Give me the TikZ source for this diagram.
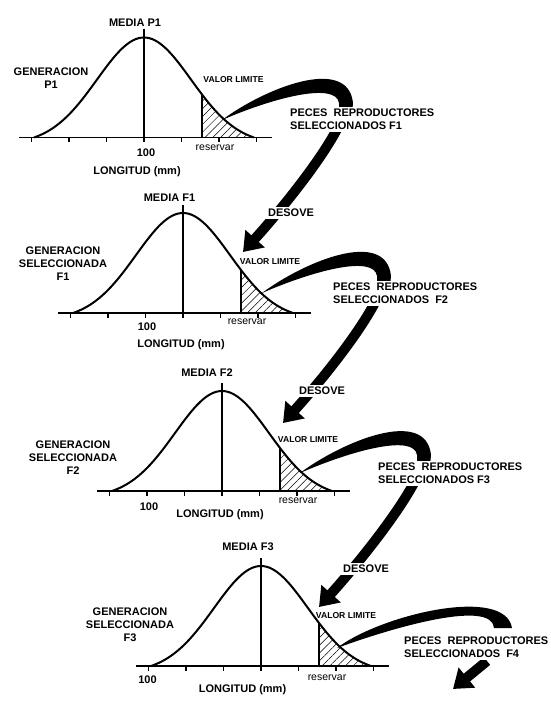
\documentclass[tikz,border=0pt]{standalone}
\usepackage{fontspec}
\setmainfont{Liberation Sans}
\usetikzlibrary{arrows.meta,patterns.meta}
\tikzset{
  declare function={bell(\t)=100*(exp(-((\t)*(\t))/4418)-0.0647)/0.9353;},
  curve-line/.style={line width=2pt},
  axis-line/.style={line width=1.8pt},
  tick-line/.style={line width=1.1pt},
  mean-line/.style={line width=1.8pt},
  limit-line/.style={line width=1.2pt},
  tail-hatch/.style={pattern={Lines[angle=45,distance=5.5pt,line width=0.5pt]}},
  band/.style={fill=black},
  arrow-big/.style={line width=10pt,-{Triangle[length=18pt,width=25pt]}},
  txt-big/.style={font=\bfseries\fontsize{11}{13}\selectfont,align=center,inner sep=0pt},
  txt-lim/.style={font=\bfseries\fontsize{8.6}{10}\selectfont,inner sep=0pt},
  txt-res/.style={font=\fontsize{10.5}{12}\selectfont,inner sep=0pt},
  txt-sel/.style={txt-big,align=left,fill=white,inner sep=2pt,anchor=west},
  txt-desove/.style={txt-big,fill=white,inner sep=2pt},
  % una generacion: campana, cola seleccionada, eje con marcas
  bell-panel/.pic={
    \path[tail-hatch] (58,0) -- plot[domain=58:110,samples=30] (\x,{-bell(\x)}) -- cycle;
    \draw[limit-line] (58,0) -- (58,{-bell(58)});
    \draw[mean-line] (0,0) -- (0,-108);
    \draw[curve-line] plot[domain=-110:110,samples=81,smooth] (\x,{-bell(\x)});
    \draw[axis-line] (-125,0) -- (128,0);
    \foreach \k in {-3,...,3}
      \draw[tick-line] (\k*37.5,0) -- ++(0,5);
  },
}

\begin{document}
\begin{tikzpicture}[x=1pt,y=-1pt]
  \useasboundingbox (0,0) rectangle (550,708);

  % las cuatro generaciones
  \pic (p1) at (144,137.5) {bell-panel};
  \pic (f1) at (183,313) {bell-panel};
  \pic (f2) at (222,491) {bell-panel};
  \pic (f3) at (261,666) {bell-panel};

  % flechas de seleccion (el texto blanco las corta)
  \coordinate (s1) at (222,120);
  \coordinate (e1) at (346,103);
  \coordinate (t1) at (243,252);
  \fill[band] (s1) .. controls +(43,-32) and +(-5,-48) .. ([xshift=7pt]e1)
    -- ++(-1,10) -- ++(-13,0) -- ([xshift=-7pt]e1)
    .. controls +(-3,-21) and +(53,-23) .. (s1);
  \draw[arrow-big] (e1) .. controls +(0,26) and +(47,-52) .. (t1);

  \coordinate (s2) at (262,293);
  \coordinate (e2) at (384,276);
  \coordinate (t2) at (283,423);
  \fill[band] (s2) .. controls +(43,-32) and +(-5,-48) .. ([xshift=7pt]e2)
    -- ++(-1,10) -- ++(-13,0) -- ([xshift=-7pt]e2)
    .. controls +(-3,-21) and +(53,-23) .. (s2);
  \draw[arrow-big] (e2) .. controls +(0,26) and +(47,-52) .. (t2);

  \coordinate (s3) at (300,473);
  \coordinate (e3) at (424,455);
  \coordinate (t3) at (319,607);
  \fill[band] (s3) .. controls +(43,-32) and +(-5,-48) .. ([xshift=7pt]e3)
    -- ++(-1,10) -- ++(-13,0) -- ([xshift=-7pt]e3)
    .. controls +(-3,-21) and +(53,-23) .. (s3);
  \draw[arrow-big] (e3) .. controls +(0,26) and +(47,-52) .. (t3);

  \coordinate (s4) at (337,648);
  \coordinate (e4) at (503,628);
  \coordinate (r4) at (487,661);
  \coordinate (t4) at (453,689);
  \fill[band] (s4) .. controls +(43,-33) and +(-7,-43) .. ([xshift=9pt]e4)
    -- ([xshift=-9pt]e4) .. controls +(-2,-28) and +(63,-23) .. (s4);
  \draw[arrow-big] (r4) -- (t4);

  % P1
  \node[txt-big] (media-p1) at (135,23) {MEDIA P1};
  \node[txt-big] (gen-p1) at (51,78.5) {GENERACION\\P1};
  \node[txt-lim] (lim-p1) at (233.5,80) {VALOR LIMITE};
  \node[txt-res] (res-p1) at (215,148) {reservar};
  \node[txt-big] (cien-p1) at (146,153) {100};
  \node[txt-big] (long-p1) at (137,172) {LONGITUD (mm)};
  \node[txt-sel] (peces-f1) at (288,119.5) {PECES\ \ REPRODUCTORES\\SELECCIONADOS F1};
  \node[txt-desove] (desove-1) at (291,213) {DESOVE};

  % F1
  \node[txt-big] (media-f1) at (169.5,198) {MEDIA F1};
  \node[txt-big] (gen-f1) at (63,264) {GENERACION\\SELECCIONADA\\F1};
  \node[txt-lim] (lim-f1) at (270,262) {VALOR LIMITE};
  \node[txt-res] (res-f1) at (247,322) {reservar};
  \node[txt-big] (cien-f1) at (147,327) {100};
  \node[txt-big] (long-f1) at (181,345) {LONGITUD (mm)};
  \node[txt-sel] (peces-f2) at (331,293.5) {PECES\ \ REPRODUCTORES\\SELECCIONADOS\ \ F2};
  \node[txt-desove] (desove-2) at (322,391) {DESOVE};

  % F2
  \node[txt-big] (media-f2) at (207,373) {MEDIA F2};
  \node[txt-big] (gen-f2) at (73,457.5) {GENERACION\\SELECCIONADA\\F2};
  \node[txt-lim] (lim-f2) at (308,440) {VALOR LIMITE};
  \node[txt-res] (res-f2) at (298,501) {reservar};
  \node[txt-big] (cien-f2) at (149,507) {100};
  \node[txt-big] (long-f2) at (220,515) {LONGITUD (mm)};
  \node[txt-sel] (peces-f3) at (376,473.5) {PECES\ \ REPRODUCTORES\\SELECCIONADOS F3};
  \node[txt-desove] (desove-3) at (366,569) {DESOVE};

  % F3
  \node[txt-big] (media-f3) at (248,547) {MEDIA F3};
  \node[txt-big] (gen-f3) at (130,624.5) {GENERACION\\SELECCIONADA\\F3};
  \node[txt-lim] (lim-f3) at (346,616) {VALOR LIMITE};
  \node[txt-res] (res-f3) at (327,678) {reservar};
  \node[txt-big] (cien-f3) at (147.5,680) {100};
  \node[txt-big] (long-f3) at (242.5,690) {LONGITUD (mm)};
  \node[txt-sel] (peces-f4) at (402,647.5) {PECES\ \ REPRODUCTORES\\SELECCIONADOS\ \ F4};
\end{tikzpicture}
\end{document}
